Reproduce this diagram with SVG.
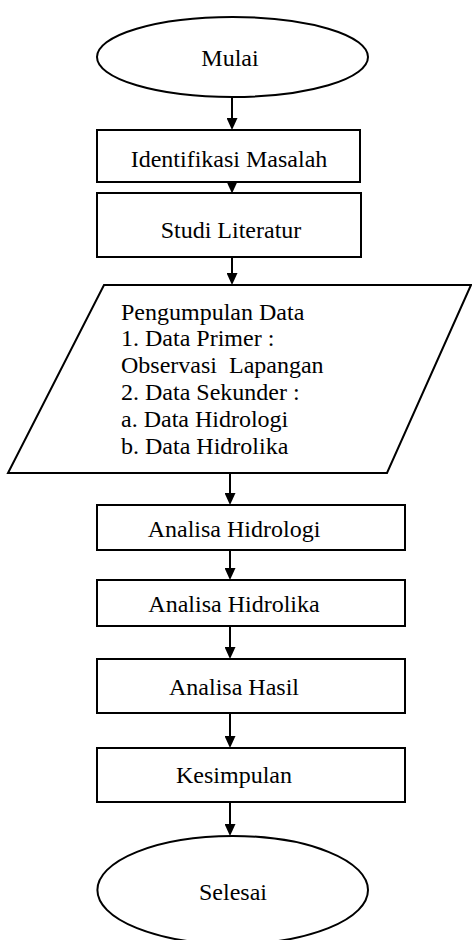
<svg xmlns="http://www.w3.org/2000/svg" width="472" height="940" viewBox="0 0 472 940">
<style>
.shape{fill:#fff;stroke:#000;stroke-width:2}
.conn{stroke:#000;stroke-width:2;fill:none;marker-end:url(#ah)}
</style>
<defs>
<marker id="ah" markerUnits="userSpaceOnUse" viewBox="0 0 12 11" refX="0" refY="5.5" markerWidth="12" markerHeight="11" orient="auto">
<path d="M0,0 L12,5.5 L0,11 z" fill="#000"/>
</marker>
</defs>
<rect width="472" height="940" fill="#fff"/>
<g id="connectors">
<line class="conn" x1="232" y1="97" x2="232" y2="118"/>
<line class="conn" x1="232" y1="181" x2="232" y2="181.5"/>
<line class="conn" x1="232" y1="257" x2="232" y2="273"/>
<line class="conn" x1="230" y1="473" x2="230" y2="493"/>
<line class="conn" x1="230" y1="550" x2="230" y2="568"/>
<line class="conn" x1="230" y1="626" x2="230" y2="647"/>
<line class="conn" x1="230" y1="713" x2="230" y2="736"/>
<line class="conn" x1="230" y1="802" x2="230" y2="824"/>
</g>
<g id="mulai">
<ellipse class="shape" cx="232.5" cy="57" rx="135.5" ry="40"/>
<text font-family="Liberation Serif" font-size="24" text-anchor="middle" style="font-family:'Liberation Serif',serif" x="230" y="66">Mulai</text>
</g>
<g id="identifikasi">
<rect class="shape" x="97" y="130" width="263" height="52"/>
<text font-family="Liberation Serif" font-size="24" text-anchor="middle" style="font-family:'Liberation Serif',serif" x="229" y="167">Identifikasi Masalah</text>
</g>
<g id="studi">
<rect class="shape" x="97" y="193" width="264" height="64"/>
<text font-family="Liberation Serif" font-size="24" text-anchor="middle" style="font-family:'Liberation Serif',serif" x="231" y="238">Studi Literatur</text>
</g>
<g id="pengumpulan">
<polygon class="shape" points="104,285 471,285 387,473 8,473"/>
<text font-family="Liberation Serif" font-size="24" style="font-family:'Liberation Serif',serif" x="121">
<tspan x="121" y="319.5">Pengumpulan Data</tspan>
<tspan x="121" y="346.3">1. Data Primer :</tspan>
<tspan x="121" y="373.1" xml:space="preserve">Observasi  Lapangan</tspan>
<tspan x="121" y="399.9">2. Data Sekunder :</tspan>
<tspan x="121" y="426.7">a. Data Hidrologi</tspan>
<tspan x="121" y="453.5">b. Data Hidrolika</tspan>
</text>
</g>
<g id="hidrologi">
<rect class="shape" x="97" y="505" width="308" height="45"/>
<text font-family="Liberation Serif" font-size="24" text-anchor="middle" style="font-family:'Liberation Serif',serif" x="234" y="537">Analisa Hidrologi</text>
</g>
<g id="hidrolika">
<rect class="shape" x="97" y="580" width="308" height="46"/>
<text font-family="Liberation Serif" font-size="24" text-anchor="middle" style="font-family:'Liberation Serif',serif" x="234" y="612">Analisa Hidrolika</text>
</g>
<g id="hasil">
<rect class="shape" x="97" y="659" width="308" height="54"/>
<text font-family="Liberation Serif" font-size="24" text-anchor="middle" style="font-family:'Liberation Serif',serif" x="234" y="695">Analisa Hasil</text>
</g>
<g id="kesimpulan">
<rect class="shape" x="97" y="748" width="308" height="54"/>
<text font-family="Liberation Serif" font-size="24" text-anchor="middle" style="font-family:'Liberation Serif',serif" x="234" y="783">Kesimpulan</text>
</g>
<g id="selesai">
<ellipse class="shape" cx="232.7" cy="890" rx="135.3" ry="54"/>
<text font-family="Liberation Serif" font-size="24" text-anchor="middle" style="font-family:'Liberation Serif',serif" x="233" y="900">Selesai</text>
</g>
</svg>
